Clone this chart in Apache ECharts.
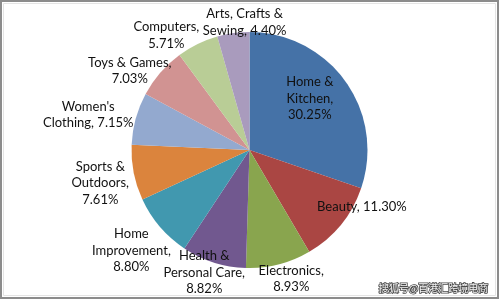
<!DOCTYPE html>
<html>
<head>
<meta charset="utf-8">
<script src="https://cdn.jsdelivr.net/npm/echarts@6/dist/echarts.min.js"></script>
<style>
  html, body { margin: 0; padding: 0; background: #fff; }
  #chart { width: 499px; height: 300px; }
</style>
</head>
<body>
<div id="chart"></div>
<script>
// Category names (line breaks as they wrap in the labels)
const categories = [
  'Home &\nKitchen', 'Beauty', 'Electronics', 'Health &\nPersonal Care',
  'Home\nImprovement', 'Sports &\nOutdoors', "Women's\nClothing",
  'Toys & Games', 'Computers', 'Arts, Crafts &\nSewing'
];
// Share of total, in percent
const shares = [30.25, 11.30, 8.93, 8.82, 8.80, 7.61, 7.15, 7.03, 5.71, 4.40];

// Separator between name and value in each label
const labelSeparators = [',\n', ', ', ',\n', ',\n', ',\n', ',\n', ', ', ',\n', ',\n', ', '];
// Label placement: radial factor along the slice's mid-angle, then a small nudge
const labelPlacement = [
  [0.66, -3, -6], [1.0, 21, -18], [1.12, 9, 1], [1.1, -6, -1], [1.32, 0, -1],
  [1.28, -1, 4], [1.4, -2, 9], [1.22, -11, 15], [1.1, -26, 2], [1.1, 13, 1]
];
const palette = ['#4572A7', '#AA4643', '#89A54E', '#71588F', '#4198AF',
                 '#DB843D', '#93A9CF', '#D19392', '#B9CD96', '#A99BBD'];

const chart = echarts.init(document.getElementById('chart'), null, { renderer: 'canvas' });

const CX = 249.5, CY = 150, R = 118;
const total = shares.reduce((a, b) => a + b, 0);
const midAngles = [];
let acc = 0;
shares.forEach(v => { midAngles.push((acc + v / 2) / total * 2 * Math.PI); acc += v; });

chart.setOption({
  animation: false,
  backgroundColor: '#ffffff',
  color: palette,
  textStyle: { fontFamily: 'Lato' },
  graphic: [
    { type: 'rect', shape: { x: 1, y: 1, width: 497, height: 297 },
      style: { fill: 'none', stroke: '#8c8c8c', lineWidth: 2 }, z: 10 },
    { type: 'rect', shape: { x: 3.5, y: 3.5, width: 492, height: 292 },
      style: { fill: 'none', stroke: '#e4e4e4', lineWidth: 1 }, z: 10 },
    { type: 'text', right: 10, bottom: 6, z: 10,
      style: { text: '搜狐号@百港汇跨境电商', font: '10px "Noto Sans CJK SC"',
               fill: '#f6f6f6', stroke: '#4a4a4a', lineWidth: 1.6 } }
  ],
  series: [{
    type: 'pie',
    center: [CX, CY],
    radius: R,
    startAngle: 90,
    clockwise: true,
    avoidLabelOverlap: false,
    itemStyle: { borderWidth: 0 },
    emphasis: { disabled: true },
    labelLine: { show: false },
    label: {
      show: true,
      position: 'inside',
      color: '#111111',
      fontFamily: 'Lato',
      fontSize: 13,
      lineHeight: 16.5,
      align: 'center',
      formatter: p => p.name + labelSeparators[p.dataIndex] + shares[p.dataIndex].toFixed(2) + '%'
    },
    labelLayout: p => {
      const i = p.dataIndex;
      const [k, dx, dy] = labelPlacement[i];
      const a = midAngles[i];
      return {
        x: CX + k * R * Math.sin(a) + dx,
        y: CY - k * R * Math.cos(a) + dy,
        align: 'center',
        verticalAlign: 'middle'
      };
    },
    data: categories.map((name, i) => ({ name, value: shares[i] }))
  }]
});
</script>
</body>
</html>
